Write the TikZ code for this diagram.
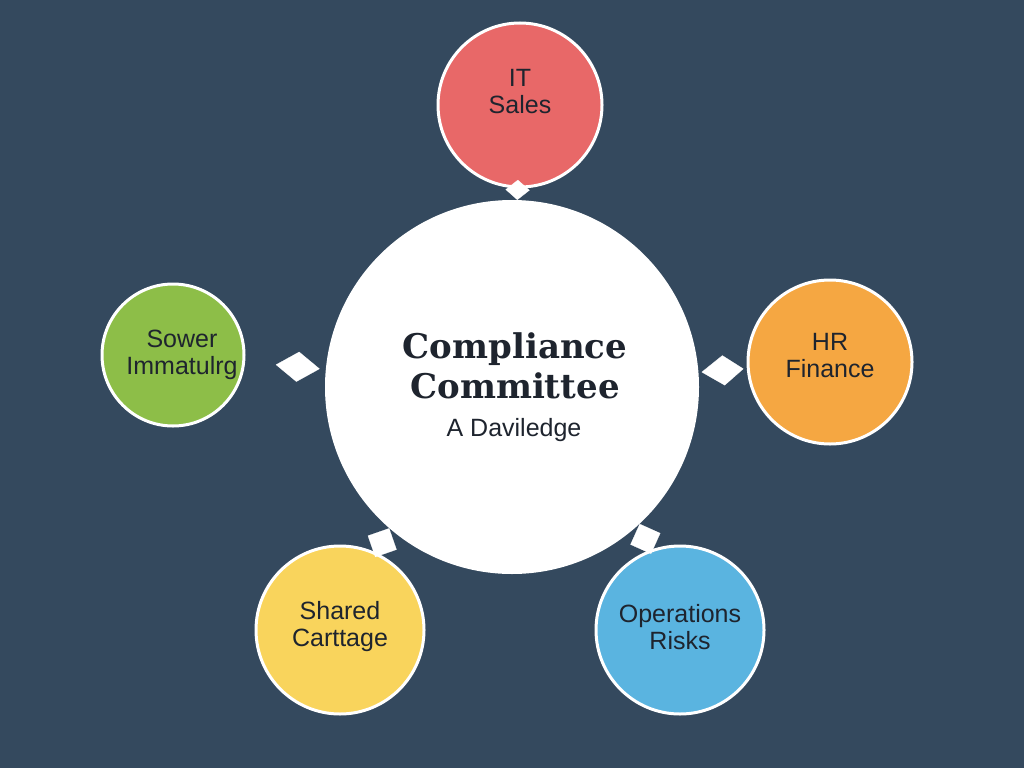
\documentclass[tikz,border=0pt]{standalone}
\usepackage{fontspec}
\setmainfont{Liberation Sans}
\newfontfamily\titlefont{DejaVu Serif}
\usetikzlibrary{arrows.meta}
\definecolor{bg}{RGB}{52,73,94}
\definecolor{txt}{RGB}{30,36,46}
\definecolor{cred}{RGB}{232,104,104}
\definecolor{cgreen}{RGB}{141,190,72}
\definecolor{corange}{RGB}{245,167,66}
\definecolor{cyellow}{RGB}{249,212,92}
\definecolor{cblue}{RGB}{90,180,224}
\begin{document}
\begin{tikzpicture}[x=1pt,y=-1pt,
  ring/.style={circle, draw=white, line width=3pt, minimum size=#1, inner sep=0pt},
  lbl/.style={align=center, font=\fontsize{25}{27}\selectfont, text=txt},
  link/.style={draw=bg, line width=0.2pt}]
\fill[bg] (0,0) rectangle (1024,768);
\useasboundingbox (0,0) rectangle (1024,768);
% satellites
\node[ring=164, fill=cred] (sales) at (520,105) {};
\node[ring=142, fill=cgreen] (green) at (173,355) {};
\node[ring=164, fill=corange] (orange) at (830,362) {};
\node[ring=168, fill=cyellow] (yellow) at (340,630) {};
\node[ring=168, fill=cblue] (blue) at (680,630) {};
% centre
\node[circle, fill=white, minimum size=374, inner sep=0pt] (center) at (512,387) {};
% connectors
\draw[link, shorten >=6pt, -{Kite[white,length=44pt,width=30pt,inset=22pt]}] (green) -- (center);
\draw[link, shorten >=3pt, -{Kite[white,length=42pt,width=30pt,inset=20pt]}] (orange) -- (center);
\draw[link, -{Kite[white,length=20pt,width=24pt,inset=10pt]}] (sales) -- (center);
\draw[link, -{Kite[white,length=32pt,width=32pt,inset=16pt]}] (yellow) -- (center.229);
\draw[link, -{Kite[white,length=32pt,width=32pt,inset=16pt]}] (blue) -- (center.313);
% texts
\node[lbl] (t1) at (520,92) {IT\\Sales};
\node[lbl] (t2) at (182,355) {Sower\\Immatulrg};
\node[lbl] (t3) at (830,356) {HR\\Finance};
\node[lbl] (t4) at (340,627) {Shared\\Carttage};
\node[lbl] (t5) at (680,627) {Operations\\Risks};
\node[font=\titlefont\bfseries\fontsize{34}{40}\selectfont, text=txt, align=center] (title) at (515,366) {Compliance\\Committee};
\node[font=\fontsize{25}{27}\selectfont, text=txt] (sub) at (514,430) {A Daviledge};
\end{tikzpicture}
\end{document}
